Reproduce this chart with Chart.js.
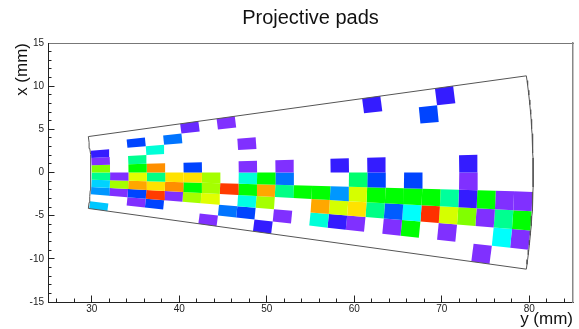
<!DOCTYPE html>
<html>
<head>
<meta charset="utf-8">
<script src="https://cdn.jsdelivr.net/npm/chart.js@4.4.0/dist/chart.umd.min.js"></script>
<style>
html,body{margin:0;padding:0;background:#fff;}
canvas{display:block;}
</style>
</head>
<body>
<canvas id="c" width="579" height="329"></canvas>
<script>
// ---- pad-plane geometry (mm, degrees) ----
const R_MIN = 30, R_PITCH = 2.1, N_ROWS = 24;
const PHI_MIN = -8, PHI_PITCH = 1.6, N_SECTORS = 10;
const OUTLINE_R_IN = 29.9, OUTLINE_R_OUT = 80.45, OUTLINE_PHI = 8;

// ---- hit pads: radial row, angular sector, charge ----
const padRow = [
  0,0,0,0,0,0,0,
  1,1,1,
  2,2,2,2,2,2,2,
  3,3,3,3,3,3,
  4,4,4,4,
  5,5,5,5,5,
  6,6,6,6,
  7,7,7,
  8,8,8,8,8,8,
  9,9,9,9,
  10,10,10,10,
  11,
  12,12,12,
  13,13,13,13,
  14,14,14,14,
  15,15,15,15,15,
  16,16,16,
  17,17,17,17,
  18,18,18,
  19,19,19,19,
  20,20,20,20,
  21,21,21,
  22,22,22,
  23,23,23
];
const padSector = [
  7,6,5,4,3,2,0,
  4,3,2,
  8,6,5,4,3,2,1,
  7,5,4,3,2,1,
  8,4,3,2,
  9,5,4,3,2,
  4,3,2,0,
  9,3,1,
  7,5,4,3,2,1,
  4,3,2,0,
  5,4,3,1,
  3,
  3,2,1,
  5,3,2,1,
  4,3,2,1,
  9,5,4,3,2,
  3,2,1,
  4,3,2,1,
  8,3,2,
  9,3,2,1,
  5,4,3,2,
  3,2,0,
  3,2,1,
  3,2,1
];
const padCharge = [
  12,6,68,45,32,27,31,
  6,71,6,
  20,45,57,76,86,20,6,
  39,88,46,81,95,20,
  24,81,88,6,
  8,20,81,57,71,
  71,71,76,6,
  6,95,24,
  6,6,39,57,38,20,
  57,86,71,12,
  6,24,46,6,
  57,
  57,86,39,
  12,27,75,12,
  48,75,81,6,
  12,12,20,57,46,
  57,22,6,
  20,57,36,57,
  20,57,96,
  12,44,75,6,
  12,6,12,68,
  57,6,6,
  6,45,36,
  6,57,6
];

// ---- axes ----
const xMajorTicks = [30, 40, 50, 60, 70, 80];
const yMajorTicks = [-15, -10, -5, 0, 5, 10, 15];
const X_MIN = 25, X_MAX = 85, Y_MIN = -15, Y_MAX = 15;
const X_MINOR_STEP = 2, Y_MINOR_STEP = 1;

const FONT = "'Liberation Sans', Arial, Helvetica, sans-serif";
const DEG = Math.PI / 180;

// ROOT-like pretty palette (violet -> red)
function padColor(v) {
  const h = 280 - 2.8 * v;
  const l = h > 225 ? 50 + (h - 225) * 0.25 : 50;
  return `hsl(${h.toFixed(1)},100%,${l.toFixed(1)}%)`;
}
function polar(r, phiDeg) {
  return { x: r * Math.cos(phiDeg * DEG), y: r * Math.sin(phiDeg * DEG) };
}

const datasets = [];

// outline of the sector
const outline = [];
const nIn = 12, nOut = 40;
for (let k = 0; k <= nIn; k++) outline.push(polar(OUTLINE_R_IN, -OUTLINE_PHI + 2 * OUTLINE_PHI * k / nIn));
for (let k = 0; k <= nOut; k++) outline.push(polar(OUTLINE_R_OUT, OUTLINE_PHI - 2 * OUTLINE_PHI * k / nOut));
outline.push(polar(OUTLINE_R_IN, -OUTLINE_PHI));
datasets.push({
  data: outline, showLine: true, fill: false, borderColor: '#555', borderWidth: 1,
  pointRadius: 0, tension: 0, order: 0
});

// pads
for (let n = 0; n < padRow.length; n++) {
  const r0 = R_MIN + padRow[n] * R_PITCH, r1 = r0 + R_PITCH;
  const p0 = PHI_MIN + padSector[n] * PHI_PITCH, p1 = p0 + PHI_PITCH;
  const col = padColor(padCharge[n]);
  datasets.push({
    data: [polar(r0, p0), polar(r1, p0), polar(r1, p1), polar(r0, p1), polar(r0, p0)],
    showLine: true, fill: 'shape', backgroundColor: col, borderColor: 'rgba(0,0,0,0)',
    borderWidth: 1, pointRadius: 0, tension: 0, order: 1
  });
}

function rangeTicks(min, max, step) {
  const t = [];
  for (let v = min; v <= max + 1e-9; v += step) t.push({ value: Math.round(v * 1000) / 1000 });
  return t;
}

new Chart(document.getElementById('c'), {
  type: 'scatter',
  data: { datasets },
  options: {
    responsive: false,
    animation: false,
    layout: { padding: { left: 0, right: 6, top: 0, bottom: 0 } },
    plugins: {
      legend: { display: false },
      tooltip: { enabled: false },
      title: {
        display: true, text: 'Projective pads', fullSize: false,
        color: '#111', font: { family: FONT, size: 20, weight: 'normal', lineHeight: 1.2 },
        padding: { top: 6, bottom: 13 }
      }
    },
    scales: {
      x: {
        type: 'linear', position: 'bottom', min: X_MIN, max: X_MAX, weight: 1,
        afterBuildTicks: s => { s.ticks = xMajorTicks.map(v => ({ value: v })); },
        afterFit: s => { s.height = 27; },
        ticks: { autoSkip: false, maxRotation: 0, padding: 8, color: '#222',
                 font: { family: FONT, size: 10 }, callback: v => String(v) },
        grid: { drawOnChartArea: false, drawTicks: true, tickLength: -6.5, tickColor: '#222', tickWidth: 1 },
        border: { display: true, color: '#222', width: 1 },
        title: { display: true, text: 'y (mm)', align: 'end', color: '#111',
                 font: { family: FONT, size: 17, lineHeight: 1.1 }, padding: { top: 0, bottom: 0 } }
      },
      xm: {
        type: 'linear', position: 'bottom', min: X_MIN, max: X_MAX, weight: 0,
        afterBuildTicks: s => { s.ticks = rangeTicks(X_MIN + 1, X_MAX, X_MINOR_STEP); },
        afterFit: s => { s.height = 0; },
        ticks: { display: false, autoSkip: false },
        grid: { drawOnChartArea: false, drawTicks: true, tickLength: -3.5, tickColor: '#222', tickWidth: 1 },
        border: { display: false }
      },
      xt: {
        type: 'linear', position: 'top', min: X_MIN, max: X_MAX,
        afterFit: s => { s.height = 0; },
        ticks: { display: false },
        grid: { display: false },
        border: { display: true, color: '#777', width: 1 }
      },
      y: {
        type: 'linear', position: 'left', min: Y_MIN, max: Y_MAX, weight: 1,
        afterBuildTicks: s => { s.ticks = yMajorTicks.map(v => ({ value: v })); },
        afterFit: s => { s.width = 48; },
        ticks: { autoSkip: false, padding: 10.5, color: '#222',
                 font: { family: FONT, size: 10 }, callback: v => String(v) },
        grid: { drawOnChartArea: false, drawTicks: true, tickLength: -6.5, tickColor: '#222', tickWidth: 1 },
        border: { display: true, color: '#222', width: 1 },
        title: { display: true, text: 'x (mm)', align: 'end', color: '#111',
                 font: { family: FONT, size: 17, lineHeight: 1.2 }, padding: { top: 12, bottom: 0 } }
      },
      ym: {
        type: 'linear', position: 'left', min: Y_MIN, max: Y_MAX, weight: 0,
        afterBuildTicks: s => { s.ticks = rangeTicks(Y_MIN, Y_MAX, Y_MINOR_STEP); },
        afterFit: s => { s.width = 0; },
        ticks: { display: false, autoSkip: false },
        grid: { drawOnChartArea: false, drawTicks: true, tickLength: -3.5, tickColor: '#222', tickWidth: 1 },
        border: { display: false }
      },
      yr: {
        type: 'linear', position: 'right', min: Y_MIN, max: Y_MAX,
        afterFit: s => { s.width = 0; },
        ticks: { display: false },
        grid: { display: false },
        border: { display: true, color: '#888', width: 1.5 }
      }
    }
  }
});
</script>
</body>
</html>
